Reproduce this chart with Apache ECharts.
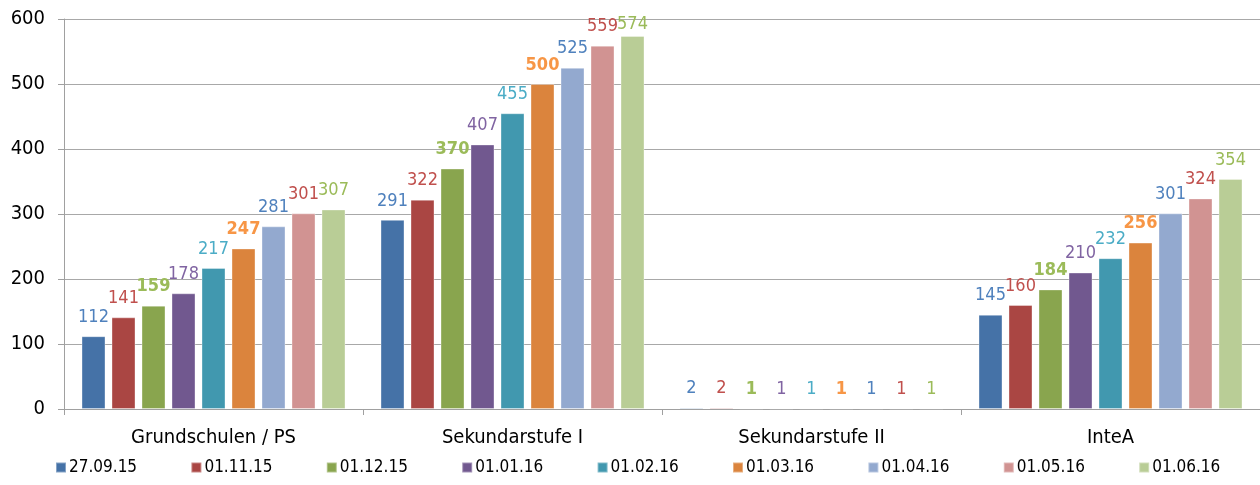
<!DOCTYPE html>
<html>
<head>
<meta charset="utf-8">
<script src="https://cdn.jsdelivr.net/npm/echarts@6/dist/echarts.min.js"></script>
<style>html,body{margin:0;padding:0;background:#fff}#c{width:1260px;height:485px}</style>
</head>
<body>
<div id="c"></div>
<script>
const categories = ['Grundschulen / PS', 'Sekundarstufe I', 'Sekundarstufe II', 'InteA'];
const seriesNames = ['27.09.15', '01.11.15', '01.12.15', '01.01.16', '01.02.16', '01.03.16', '01.04.16', '01.05.16', '01.06.16'];
const v270915 = [112, 291, 2, 145];
const v011115 = [141, 322, 2, 160];
const v011215 = [159, 370, 1, 184];
const v010116 = [178, 407, 1, 210];
const v010216 = [217, 455, 1, 232];
const v010316 = [247, 500, 1, 256];
const v010416 = [281, 525, 1, 301];
const v010516 = [301, 559, 1, 324];
const v010616 = [307, 574, 1, 354];
const yTicks = [0, 100, 200, 300, 400, 500, 600];

const seriesValues = [v270915, v011115, v011215, v010116, v010216, v010316, v010416, v010516, v010616];
const barColors = ['#4572a7', '#aa4643', '#89a54e', '#71588f', '#4198af', '#db843d', '#93a9cf', '#d19392', '#b9cd96'];
const labelColors = ['#4f81bd', '#c0504d', '#9bbb59', '#8064a2', '#4bacc6', '#f79646', '#4f81bd', '#c0504d', '#9bbb59'];
const boldLabels = [false, false, true, false, false, true, false, false, false];
const FONT = '"DejaVu Sans Condensed", "Liberation Sans", sans-serif';

const legends = seriesNames.map((name, i) => ({
  data: [name],
  left: 55 + i * 135.4, top: 459,
  itemWidth: 10, itemHeight: 10, itemGap: 0,
  icon: 'rect',
  textStyle: {fontFamily: FONT, fontSize: 17, color: '#000', padding: [0, 0, 0, -2]},
  padding: 0
}));

const chart = echarts.init(document.getElementById('c'), null, {renderer: 'canvas'});
chart.setOption({
  animation: false,
  textStyle: {fontFamily: FONT},
  grid: {left: 64, top: 19, width: 1202, height: 390, containLabel: false},
  legend: legends,
  xAxis: {
    type: 'category',
    data: categories,
    axisLine: {lineStyle: {color: '#a0a0a0', width: 1}},
    axisTick: {show: true, length: 6, lineStyle: {color: '#a0a0a0'}},
    axisLabel: {fontFamily: FONT, fontSize: 20, color: '#000', margin: 19}
  },
  yAxis: {
    type: 'value',
    min: 0, max: 600, interval: 100,
    axisLine: {show: true, lineStyle: {color: '#a0a0a0', width: 1}},
    axisTick: {show: true, length: 6, lineStyle: {color: '#a0a0a0'}},
    splitLine: {lineStyle: {color: '#a8a8a8', width: 1}},
    axisLabel: {fontFamily: FONT, fontSize: 20, color: '#000', margin: 19,
      formatter: v => yTicks.includes(v) ? String(v) : ''}
  },
  series: seriesValues.map((vals, i) => ({
    name: seriesNames[i],
    type: 'bar',
    data: vals,
    barWidth: 24,
    barGap: '25%',
    itemStyle: {color: barColors[i], borderColor: 'rgba(255,255,255,0.35)', borderWidth: 1},
    labelLayout: p => (p.labelRect && p.labelRect.y < 15) ? {dy: 15 - p.labelRect.y} : {},
    label: {
      show: true, position: 'top', distance: 10,
      color: labelColors[i], fontFamily: FONT, fontSize: 18,
      fontWeight: boldLabels[i] ? 'bold' : 'normal'
    }
  }))
});
</script>
</body>
</html>
